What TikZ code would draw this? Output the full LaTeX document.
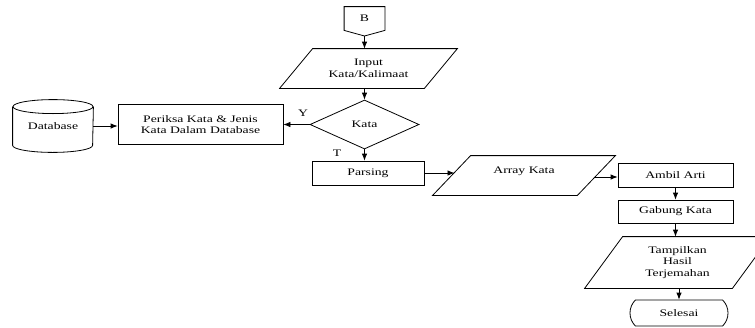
\documentclass[tikz,border=0pt]{standalone}
\usepackage{fontspec}
\setmainfont[FakeStretch=1.37]{Liberation Serif}
\usetikzlibrary{arrows.meta,shapes.geometric,shapes.misc,calc}

% parallelogram (input/output) outline around a borderless node
\newcommand\ioshape[2]{%
  \draw ($(#1.north west)+(#2,0)$) -- (#1.north east)
        -- ($(#1.south east)-(#2,0)$) -- (#1.south west) -- cycle;}

\begin{document}
\begin{tikzpicture}[x=1pt,y=1pt,line width=0.8pt,
  every node/.style={font=\fontsize{10}{11.5}\selectfont, inner sep=0pt, align=center},
  proc/.style={draw, rectangle},
  decision/.style={draw, diamond, aspect=2.2},
  term/.style={draw, rounded rectangle, rounded rectangle arc length=90},
  flow/.style={-{Latex[length=7pt,width=5.5pt]}}]

\useasboundingbox (0,0) rectangle (755,-327);

% off-page connector
\node[minimum width=40pt, minimum height=23pt] (B) at (364.5,-18.5) {B};
\coordinate (Btip) at (364.5,-36);
\draw (Btip) -- (B.south west) -- (B.north west) -- (B.north east) -- (B.south east) -- cycle;

% input
\node[minimum width=177pt, minimum height=39pt] (inp) at (368.5,-68.5) {Input\\Kata/Kalimaat};
\ioshape{inp}{33}

% decision
\node[decision, minimum width=109pt, minimum height=49pt] (dia) at (364.5,-124.5) {Kata};
\node (ly) at (303,-113) {Y};
\node (lt) at (337,-153) {T};

% database lookup
\node[proc, minimum width=165pt, minimum height=40pt] (per) at (200.5,-124.5) {Periksa Kata \& Jenis\\Kata Dalam Database};
\node[minimum width=80pt, minimum height=52pt] (db) at (53,-126) {Database};
\draw ($(db.north west)+(0,-7)$) -- ($(db.south west)+(0,7)$)
      arc[start angle=180, end angle=360, x radius=40, y radius=7]
      -- ($(db.north east)+(0,-7)$);
\draw ($(db.north)+(0,-7)$) ellipse[x radius=40, y radius=7];

% parsing branch
\node[proc, minimum width=112pt, minimum height=24pt] (pars) at (368,-173) {Parsing};
\node[minimum width=182pt, minimum height=39pt] (arr) at (524,-175.5) {Array Kata\\\mbox{}};
\ioshape{arr}{38}
\coordinate (arrL) at (454.5,-173);
\coordinate (arrR) at (594.5,-177);

\node[proc, minimum width=115pt, minimum height=24pt] (amb) at (675.5,-175) {Ambil Arti};
\node[proc, minimum width=115pt, minimum height=23pt] (gab) at (675.5,-211.5) {Gabung Kata};
\node[minimum width=185pt, minimum height=51pt] (tam) at (677.5,-262.5) {Tampilkan\\Hasil\\Terjemahan};
\ioshape{tam}{38}
\node[term, minimum width=98pt, minimum height=26pt] (sel) at (679,-313) {Selesai};

% connectors
\draw[flow] (Btip) -- (Btip |- inp.north);
\draw[flow] (dia.north |- inp.south) -- (dia.north);
\draw[flow] (dia.west) -- (dia.west -| per.east);
\draw[flow] (db.east) -- (db.east -| per.west);
\draw[flow] (dia.south) -- (dia.south |- pars.north);
\draw[flow] (pars.east) -- (pars.east -| arrL);
\draw[flow] (arrR) -- (arrR -| amb.west);
\draw[flow] (amb.south) -- (gab.north);
\draw[flow] (gab.south) -- (gab.south |- tam.north);
\draw[flow] (sel.north |- tam.south) -- (sel.north);
\end{tikzpicture}
\end{document}
